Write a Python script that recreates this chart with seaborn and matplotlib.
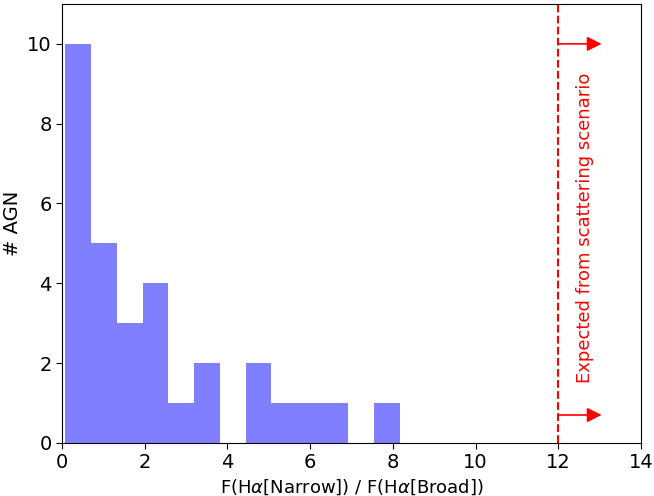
import matplotlib
matplotlib.use("Agg")
import matplotlib.pyplot as plt
import seaborn as sns
import numpy as np
import pandas as pd

# Narrow/broad H-alpha flux ratios
ratios = [
    0.08, 0.12, 0.18, 0.25, 0.31, 0.38, 0.44, 0.51, 0.58, 0.65,
    0.78, 0.92, 1.05, 1.14, 1.27,
    1.45, 1.62, 1.80,
    2.05, 2.18, 2.33, 2.49,
    2.85,
    3.35, 3.62,
    4.60, 4.90,
    5.40,
    6.00,
    6.60,
    8.17,
]
n_bins = 13
scatter_ratio = 12
arrow_y = [10, 0.7]
note = "Expected from scattering scenario"

df = pd.DataFrame({"ratio": ratios})

sns.set_style("ticks")
plt.rcParams["font.family"] = ["DejaVu Sans"]
plt.rcParams.update({"text.color": "black", "axes.labelcolor": "black",
                     "xtick.color": "black", "ytick.color": "black"})

fig, ax = plt.subplots(figsize=(6.54, 4.96), dpi=100)
sns.histplot(data=df, x="ratio", bins=n_bins, color="blue", alpha=0.5,
             edgecolor="none", linewidth=0, ax=ax)

ax.axvline(scatter_ratio, color="red", ls="--", lw=1.5)
for y in arrow_y:
    ax.annotate("", xy=(scatter_ratio + 1.05, y), xytext=(scatter_ratio, y),
                arrowprops=dict(arrowstyle="-|>", color="red", lw=1.2,
                                mutation_scale=22, shrinkA=0, shrinkB=0))
ax.text(scatter_ratio + 0.65, 5.4, note, rotation=90, color="red",
        fontsize=13, ha="center", va="center")

ax.set_xlim(0, 14)
ax.set_ylim(0, 11)
ax.set_xticks([0, 2, 4, 6, 8, 10, 12, 14])
ax.set_yticks([0, 2, 4, 6, 8, 10])
ax.tick_params(labelsize=14, direction="out", length=4, colors="black")
ax.set_xlabel(r"F(H$\alpha$[Narrow]) / F(H$\alpha$[Broad])", fontsize=13)
ax.set_ylabel("# AGN", fontsize=14)
for s in ax.spines.values():
    s.set_visible(True)
    s.set_color("black")

fig.subplots_adjust(left=0.095, right=0.98, top=0.992, bottom=0.107)
fig.savefig("out.png", dpi=100)
